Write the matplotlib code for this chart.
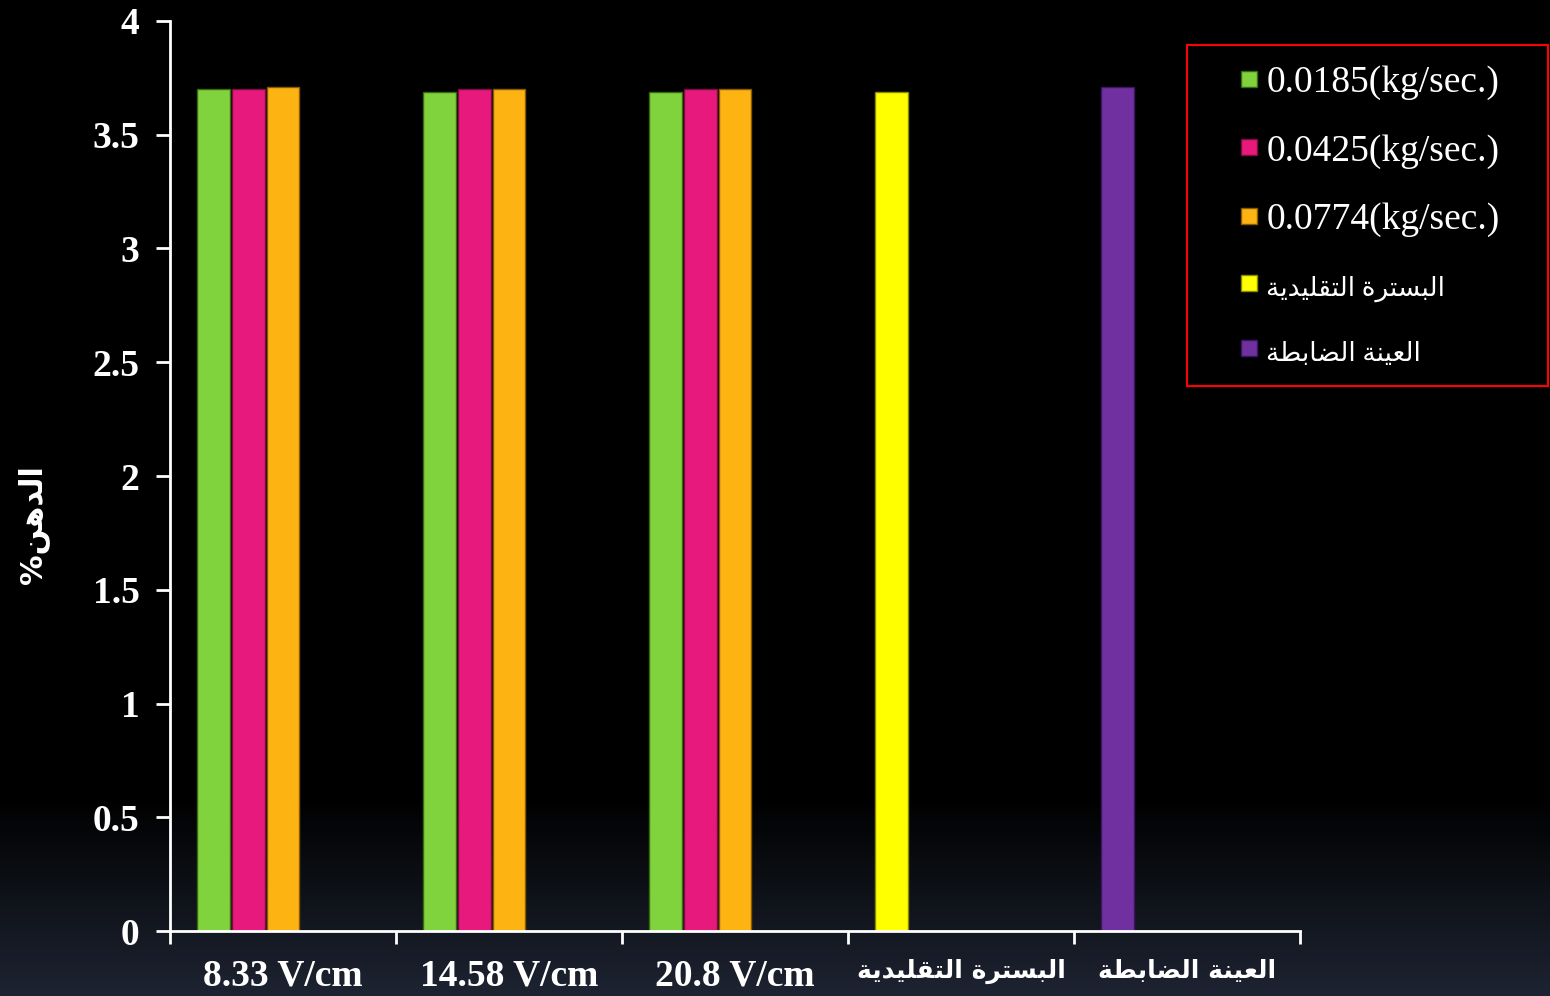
import numpy as np
import matplotlib
matplotlib.use("Agg")
import matplotlib.pyplot as plt
from matplotlib.patches import Patch, Rectangle
from matplotlib.legend_handler import HandlerPatch

# ---------------- data ----------------
categories = ["8.33 V/cm", "14.58 V/cm", "20.8 V/cm", "البسترة التقليدية", "العينة الضابطة"]
series_labels = ["0.0185(kg/sec.)", "0.0425(kg/sec.)", "0.0774(kg/sec.)",
                 "البسترة التقليدية", "العينة الضابطة"]
flow_0185 = [3.70, 3.69, 3.69]
flow_0425 = [3.70, 3.70, 3.70]
flow_0774 = [3.71, 3.70, 3.70]
traditional = [3.69]
control = [3.71]
y_ticks = [0, 0.5, 1, 1.5, 2, 2.5, 3, 3.5, 4]
y_label = "الدهن%"

colors = ["#80d33c", "#e8197d", "#fdb413", "#ffff00", "#7030a0"]
edges = ["#3a6a10", "#7a0c40", "#8a5a00", "#8a8a00", "#3a1560"]

# ------------- simple Arabic shaping (presentation forms) -------------
FORMS = {
    "ا": ("\uFE8D", "\uFE8E"),
    "د": ("\uFEA9", "\uFEAA"),
    "ر": ("\uFEAD", "\uFEAE"),
    "ة": ("\uFE93", "\uFE94"),
    "ل": ("\uFEDD", "\uFEDE", "\uFEDF", "\uFEE0"),
    "ب": ("\uFE8F", "\uFE90", "\uFE91", "\uFE92"),
    "س": ("\uFEB1", "\uFEB2", "\uFEB3", "\uFEB4"),
    "ت": ("\uFE95", "\uFE96", "\uFE97", "\uFE98"),
    "ق": ("\uFED5", "\uFED6", "\uFED7", "\uFED8"),
    "ي": ("\uFEF1", "\uFEF2", "\uFEF3", "\uFEF4"),
    "ع": ("\uFEC9", "\uFECA", "\uFECB", "\uFECC"),
    "ن": ("\uFEE5", "\uFEE6", "\uFEE7", "\uFEE8"),
    "ض": ("\uFEBD", "\uFEBE", "\uFEBF", "\uFEC0"),
    "ط": ("\uFEC1", "\uFEC2", "\uFEC3", "\uFEC4"),
    "ه": ("\uFEE9", "\uFEEA", "\uFEEB", "\uFEEC"),
}


def is_arabic(s):
    return any(ch in FORMS for ch in s)


def shape(s):
    if not is_arabic(s):
        return s
    out = []
    for i, ch in enumerate(s):
        if ch not in FORMS:
            out.append(ch)
            continue
        prev = s[i - 1] if i > 0 else None
        nxt = s[i + 1] if i + 1 < len(s) else None
        f = FORMS[ch]
        jp = prev in FORMS and len(FORMS[prev]) == 4
        jn = nxt in FORMS and len(f) == 4
        if jp and jn:
            out.append(f[3])
        elif jp:
            out.append(f[1])
        elif jn:
            out.append(f[2])
        else:
            out.append(f[0])
    return "".join(out)[::-1]


SERIF = ["Liberation Serif", "DejaVu Sans"]

# ---------------- figure ----------------
fig = plt.figure(figsize=(15.5, 9.96), dpi=100)
fig.patch.set_facecolor("black")

# background gradient (black -> dark navy at the bottom)
bg = fig.add_axes([0, 0, 1, 1], zorder=-10)
grad = np.zeros((200, 1, 3))
t = np.linspace(0, 1, 200)
ramp = np.clip((t - 0.80) / 0.20, 0, 1)
bottom_col = np.array([0x1d, 0x23, 0x31]) / 255.0
grad[:, 0, :] = ramp[:, None] * bottom_col[None, :]
bg.imshow(grad, aspect="auto", extent=[0, 1, 0, 1], origin="upper")
bg.axis("off")

ax = fig.add_axes([170 / 1550, 1 - 931 / 996, 1130 / 1550, 910 / 996])
ax.set_facecolor("none")

x = np.arange(len(categories))
slot = 0.1527
width = 0.146
offsets = [(i - 2) * slot for i in range(5)]

n3 = len(flow_0185)
ax.bar(x[:n3] + offsets[0], flow_0185, width, color=colors[0], edgecolor=edges[0], linewidth=1)
ax.bar(x[:n3] + offsets[1], flow_0425, width, color=colors[1], edgecolor=edges[1], linewidth=1)
ax.bar(x[:n3] + offsets[2], flow_0774, width, color=colors[2], edgecolor=edges[2], linewidth=1)
ax.bar(x[3:4] + offsets[0], traditional, width, color=colors[3], edgecolor=edges[3], linewidth=1)
ax.bar(x[4:5] + offsets[0], control, width, color=colors[4], edgecolor=edges[4], linewidth=1)

ax.set_xlim(-0.5, len(categories) - 0.5)
ax.set_ylim(0, 4)
ax.set_yticks(y_ticks)
ax.set_yticklabels([f"{v:g}" for v in y_ticks], fontfamily=SERIF, fontweight="bold",
                   fontsize=27, color="white")
ax.set_xticks(x)
ax.set_xticklabels([shape(c) for c in categories], fontfamily=SERIF,
                   fontweight="bold", fontsize=27, color="white")
for c, lab in zip(categories, ax.get_xticklabels()):
    if is_arabic(c):
        lab.set_fontsize(18)
        lab.set_fontfamily("DejaVu Sans")
ax.set_xticks(np.arange(-0.5, len(categories)), minor=True)
ax.tick_params(axis="x", which="major", length=0, pad=20)
ax.tick_params(axis="x", which="minor", length=9, width=2, color="white", direction="out")
ax.tick_params(axis="y", length=10, width=2, color="white", direction="out", pad=12)

for s in ["top", "right"]:
    ax.spines[s].set_visible(False)
for s in ["left", "bottom"]:
    ax.spines[s].set_color("white")
    ax.spines[s].set_linewidth(2)

fig.text(33 / 1550, 1 - 525 / 996, shape(y_label), rotation=90, ha="center", va="center",
         fontsize=22, fontweight="bold", color="white", family=["DejaVu Sans"])


# legend: small square marker placed at the right end of a wider handle box
SQ = 11.5


def square_patch(legend, orig_handle, xdescent, ydescent, width, height, fontsize):
    return Rectangle((-xdescent + width - SQ, -ydescent + (height - SQ) / 2), SQ, SQ)


handles = [Patch(facecolor=colors[i], edgecolor=edges[i], label=shape(series_labels[i]))
           for i in range(5)]
leg = fig.legend(handles=handles, loc="upper left",
                 bbox_to_anchor=(1187 / 1550, 1 - 45 / 996), bbox_transform=fig.transFigure,
                 prop={"family": SERIF, "size": 27}, labelcolor="white",
                 frameon=False,
                 handlelength=1.32, handleheight=0.6, handletextpad=0.25,
                 labelspacing=0.9, borderpad=0.55, borderaxespad=0,
                 handler_map={Patch: HandlerPatch(patch_func=square_patch)})
for c, txt in zip(series_labels, leg.get_texts()):
    if is_arabic(c):
        txt.set_fontsize(19)

# legend frame (red box, wider than the entries as in the reference)
fig.patches.append(Rectangle((1187 / 1550, 1 - 386 / 996), 361 / 1550, 341 / 996,
                             transform=fig.transFigure, facecolor="none",
                             edgecolor="#ff0000", linewidth=1.5, zorder=5))

fig.savefig("out.png", dpi=100, facecolor=fig.get_facecolor())
